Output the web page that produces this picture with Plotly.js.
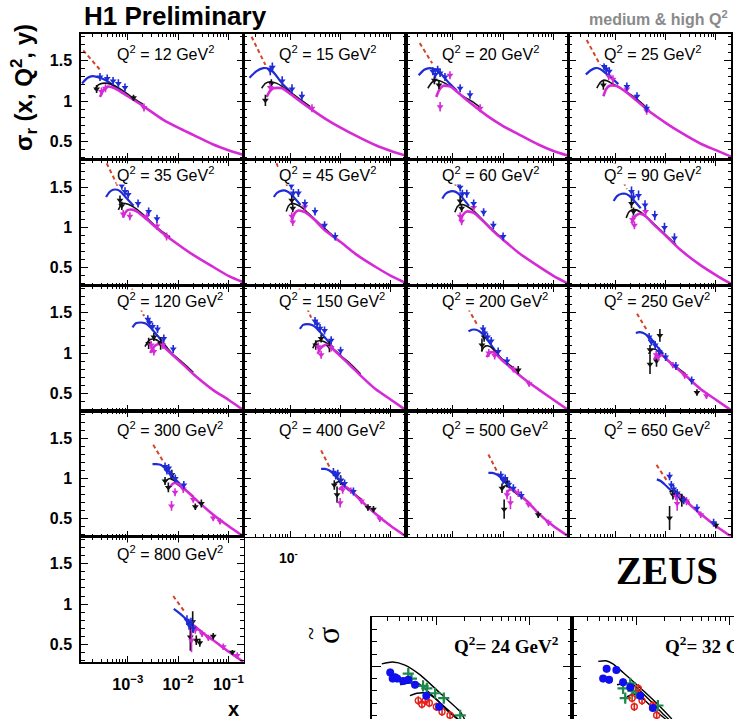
<!DOCTYPE html>
<html><head><meta charset="utf-8">
<script src="https://cdn.plot.ly/plotly-3.0.1.min.js"></script>
<style>html,body{margin:0;padding:0;background:#fff}#c{width:734px;height:719px}</style>
</head><body><div id="c"></div>
<script>
// ---------------- H1 data (17 panels) ----------------
const Q2 = [12,15,20,25,35,45,60,90,120,150,200,250,300,400,500,650,800];

// red dashed (F2-like) segment
const redX = [[1.3e-4,2.8e-4],[1.7e-4,3.2e-4],[2.2e-4,3.9e-4],[2.7e-4,5.0e-4],[3.8e-4,6.5e-4],[5.3e-4,9.0e-4],[7.0e-4,1.2e-3],[9.5e-4,1.7e-3],[1.2e-3,2.1e-3],[1.5e-3,2.6e-3],[2.0e-3,3.2e-3],[2.7e-3,4.2e-3],[3.2e-3,5.1e-3],[4.1e-3,6.3e-3],[5.1e-3,8.0e-3],[6.6e-3,1.1e-2],[8.0e-3,1.4e-2]];
const redY = [[1.63,1.39],[1.80,1.45],[1.72,1.47],[1.76,1.45],[1.80,1.50],[1.80,1.50],[1.80,1.50],[1.80,1.48],[1.80,1.46],[1.80,1.44],[1.56,1.33],[1.49,1.29],[1.42,1.21],[1.35,1.12],[1.30,1.06],[1.17,0.96],[1.10,0.89]];

// blue curve
const blueCX = [
 [1.23e-4,1.6e-4,2.0e-4,2.8e-4,3.9e-4,5.5e-4,8e-4],
 [1.55e-4,2.1e-4,2.9e-4,3.8e-4,4.6e-4,6.9e-4,1e-3],
 [2.1e-4,2.7e-4,3.5e-4,4.6e-4,5.6e-4,8e-4,1.2e-3],
 [2.6e-4,3.2e-4,4e-4,5e-4,5.8e-4,8e-4,1.15e-3],
 [3.7e-4,4.3e-4,5.1e-4,6.2e-4,7.1e-4,9e-4,1.3e-3],
 [4.7e-4,5.4e-4,6.8e-4,8e-4,9.2e-4,1.2e-3,1.6e-3],
 [6.2e-4,7.2e-4,9e-4,1.07e-3,1.23e-3,1.6e-3,2.1e-3],
 [9.3e-4,1.08e-3,1.35e-3,1.6e-3,1.85e-3,2.4e-3,3.2e-3],
 [1.24e-3,1.45e-3,1.8e-3,2.2e-3,2.6e-3,3.4e-3,4.5e-3,6e-3],
 [1.55e-3,1.8e-3,2.2e-3,2.7e-3,3.2e-3,4.2e-3,5.6e-3,7e-3],
 [2.05e-3,2.4e-3,2.9e-3,3.4e-3,4.1e-3,5.5e-3,7.5e-3,9.2e-3],
 [2.56e-3,3e-3,3.6e-3,4.3e-3,5.1e-3,6.8e-3,9e-3],
 [3.1e-3,3.7e-3,4.6e-3,5.5e-3,6.5e-3,8.5e-3,1.1e-2],
 [4.1e-3,4.9e-3,6e-3,7.2e-3,8.5e-3,1.1e-2,1.5e-2],
 [5.1e-3,6.1e-3,7.5e-3,9e-3,1.06e-2,1.4e-2,1.9e-2],
 [6.7e-3,8e-3,9.5e-3,1.15e-2,1.4e-2,1.8e-2,2.4e-2],
 [8.2e-3,1e-2,1.3e-2,1.7e-2,2.2e-2]];
const blueCY = [
 [1.22,1.29,1.31,1.29,1.25,1.18,1.10],
 [1.29,1.37,1.41,1.40,1.36,1.22,1.12],
 [1.32,1.39,1.41,1.39,1.35,1.24,1.13],
 [1.33,1.38,1.41,1.40,1.37,1.30,1.21],
 [1.38,1.44,1.47,1.47,1.45,1.38,1.27],
 [1.38,1.43,1.46,1.46,1.44,1.37,1.28],
 [1.36,1.42,1.45,1.45,1.43,1.36,1.27],
 [1.33,1.39,1.42,1.42,1.40,1.33,1.24],
 [1.32,1.37,1.38,1.37,1.34,1.26,1.17,1.06],
 [1.30,1.35,1.36,1.35,1.32,1.24,1.15,1.06],
 [1.27,1.29,1.29,1.27,1.22,1.12,1.00,0.93],
 [1.25,1.26,1.25,1.22,1.18,1.08,0.99],
 [1.18,1.18,1.17,1.13,1.09,1.00,0.93],
 [1.12,1.12,1.10,1.06,1.01,0.93,0.85],
 [1.07,1.07,1.05,1.01,0.96,0.89,0.81],
 [0.99,0.97,0.93,0.88,0.83,0.77,0.72],
 [0.94,0.90,0.84,0.77,0.71]];

// black curve
const blackCX = [
 [2.2e-4,2.6e-4,3.1e-4,4e-4,5.5e-4,8e-4,1.2e-3,2e-3],
 [2.7e-4,3.2e-4,4e-4,5.4e-4,7e-4,1e-3,1.5e-3,2.5e-3],
 [3.2e-4,3.8e-4,4.5e-4,5.6e-4,7.1e-4,1e-3,1.5e-3,2.5e-3,3.5e-3],
 [4.3e-4,5e-4,5.8e-4,7e-4,8.5e-4,1.2e-3,1.8e-3,3e-3,4.5e-3],
 [6.5e-4,7.1e-4,7.6e-4,9e-4,1.1e-3,1.5e-3,2.4e-3,4e-3,6.9e-3],
 [8.3e-4,9.2e-4,1.05e-3,1.3e-3,1.6e-3,2.1e-3,3e-3,5e-3,8e-3],
 [1.1e-3,1.23e-3,1.4e-3,1.7e-3,2.1e-3,2.8e-3,4e-3,6.5e-3,1.05e-2],
 [1.65e-3,1.85e-3,2.1e-3,2.6e-3,3.2e-3,4.2e-3,6e-3,1e-2,1.6e-2],
 [2.2e-3,2.5e-3,2.8e-3,3.5e-3,4.3e-3,5.7e-3,8e-3,1.3e-2,2e-2],
 [2.8e-3,3.1e-3,3.5e-3,4.3e-3,5.4e-3,7e-3,1e-2,1.6e-2,2.5e-2],
 [3.7e-3,4.1e-3,4.6e-3,5.5e-3,7e-3,9e-3,1.3e-2,2e-2],
 [4.6e-3,5.1e-3,5.8e-3,7e-3,8.5e-3,1.1e-2,1.6e-2,2.5e-2],
 [5.5e-3,6.2e-3,7e-3,8.5e-3,1e-2,1.4e-2,2e-2],
 [7.4e-3,8.2e-3,9.3e-3,1.1e-2,1.35e-2,1.8e-2,2.6e-2],
 [9.2e-3,1.02e-2,1.15e-2,1.4e-2,1.7e-2,2.3e-2,3.2e-2],
 [1.2e-2,1.35e-2,1.5e-2,1.8e-2,2.2e-2,3e-2],
 [1.5e-2,1.7e-2,2e-2,2.5e-2,3e-2]];
const blackCY = [
 [1.14,1.20,1.22,1.22,1.19,1.13,1.05,0.96],
 [1.16,1.22,1.24,1.22,1.18,1.11,1.03,0.93],
 [1.16,1.23,1.26,1.25,1.22,1.16,1.07,0.99,0.92],
 [1.16,1.23,1.26,1.25,1.22,1.17,1.10,1.00,0.90],
 [1.22,1.27,1.30,1.30,1.28,1.23,1.12,0.99,0.88],
 [1.20,1.27,1.30,1.29,1.26,1.20,1.11,0.98,0.87],
 [1.19,1.26,1.29,1.28,1.25,1.19,1.09,0.96,0.85],
 [1.12,1.19,1.22,1.22,1.19,1.13,1.04,0.91,0.79],
 [1.08,1.14,1.17,1.17,1.14,1.08,0.98,0.87,0.76],
 [1.06,1.12,1.15,1.15,1.12,1.06,0.97,0.86,0.74],
 [1.02,1.07,1.09,1.08,1.02,0.94,0.86,0.77],
 [0.99,1.03,1.05,1.03,0.98,0.91,0.83,0.74],
 [0.96,0.99,1.00,0.97,0.92,0.86,0.78],
 [0.92,0.95,0.96,0.93,0.88,0.82,0.74],
 [0.87,0.90,0.91,0.88,0.83,0.77,0.71],
 [0.83,0.85,0.85,0.82,0.78,0.70],
 [0.76,0.76,0.73,0.68,0.66]];

// magenta curve (runs to high x)
const magCX = [
 [2.8e-4,3.3e-4,4e-4,5.5e-4,1e-3,2e-3,5e-3,1e-2,2e-2,5e-2,0.1,0.2],
 [3.4e-4,3.9e-4,4.6e-4,6.9e-4,1e-3,2e-3,5e-3,1e-2,2e-2,5e-2,0.1,0.2],
 [4.7e-4,5.4e-4,6.5e-4,9e-4,1.2e-3,2e-3,5e-3,1e-2,2e-2,5e-2,0.1,0.2],
 [5.8e-4,6.6e-4,7.7e-4,1e-3,1.2e-3,2e-3,5e-3,1e-2,2e-2,5e-2,0.1,0.2],
 [8.1e-4,9e-4,1.02e-3,1.3e-3,1.6e-3,2.4e-3,5e-3,1e-2,2e-2,5e-2,0.1,0.2],
 [1.06e-3,1.2e-3,1.4e-3,1.8e-3,2.1e-3,3e-3,5e-3,1e-2,2e-2,5e-2,0.1,0.2],
 [1.4e-3,1.6e-3,1.9e-3,2.4e-3,2.8e-3,4e-3,6.5e-3,1e-2,2e-2,5e-2,0.1,0.2],
 [2.1e-3,2.4e-3,2.9e-3,3.6e-3,4.2e-3,6e-3,1e-2,2e-2,5e-2,0.1,0.2],
 [2.8e-3,3.2e-3,3.9e-3,4.8e-3,5.6e-3,8e-3,1.3e-2,2e-2,5e-2,0.1,0.2],
 [3.5e-3,4e-3,4.9e-3,6e-3,7e-3,1e-2,1.6e-2,2.5e-2,5e-2,0.1,0.2],
 [4.7e-3,5.3e-3,6.4e-3,8e-3,9.2e-3,1.3e-2,1.9e-2,3e-2,5.3e-2,0.1,0.2],
 [5.9e-3,6.6e-3,8e-3,1e-2,1.15e-2,1.6e-2,2.5e-2,5e-2,0.1,0.2],
 [7e-3,8e-3,9.5e-3,1.2e-2,1.4e-2,2e-2,3e-2,5e-2,0.1,0.2],
 [9.3e-3,1.06e-2,1.25e-2,1.55e-2,1.85e-2,2.6e-2,5e-2,0.1,0.2],
 [1.17e-2,1.33e-2,1.6e-2,1.9e-2,2.3e-2,3.2e-2,5e-2,0.1,0.2],
 [1.5e-2,1.7e-2,2e-2,2.5e-2,3e-2,4e-2,5.5e-2,0.1,0.2],
 [1.9e-2,2.1e-2,2.5e-2,3e-2,4e-2,5e-2,0.1,0.2]];
const magCY = [
 [1.05,1.14,1.18,1.16,1.06,0.94,0.77,0.67,0.58,0.46,0.39,0.33],
 [1.05,1.12,1.16,1.16,1.09,0.95,0.78,0.67,0.57,0.45,0.38,0.32],
 [1.05,1.14,1.19,1.18,1.12,1.00,0.81,0.69,0.59,0.46,0.38,0.32],
 [1.06,1.15,1.19,1.19,1.17,1.07,0.86,0.73,0.61,0.47,0.39,0.31],
 [1.13,1.19,1.22,1.22,1.19,1.10,0.93,0.79,0.66,0.51,0.40,0.32],
 [1.09,1.17,1.21,1.20,1.18,1.10,0.96,0.82,0.67,0.51,0.40,0.31],
 [1.08,1.16,1.20,1.19,1.17,1.08,0.95,0.85,0.69,0.52,0.40,0.30],
 [1.05,1.13,1.17,1.16,1.13,1.03,0.90,0.72,0.53,0.41,0.30],
 [1.00,1.07,1.11,1.10,1.06,0.97,0.85,0.74,0.54,0.42,0.29],
 [0.99,1.06,1.10,1.09,1.05,0.96,0.84,0.72,0.55,0.42,0.29],
 [0.95,1.00,1.01,0.96,0.92,0.84,0.75,0.65,0.54,0.42,0.29],
 [0.92,0.97,0.98,0.94,0.90,0.82,0.72,0.55,0.42,0.29],
 [0.90,0.94,0.94,0.90,0.86,0.77,0.67,0.55,0.41,0.28],
 [0.86,0.90,0.90,0.86,0.81,0.72,0.56,0.41,0.28],
 [0.82,0.86,0.86,0.82,0.78,0.70,0.57,0.41,0.28],
 [0.78,0.80,0.78,0.73,0.68,0.61,0.54,0.41,0.28],
 [0.72,0.73,0.69,0.65,0.59,0.55,0.41,0.28]];

// data points: blue (920 GeV), black (575 GeV), magenta (460 GeV)
const blueX = [
 [2.8e-4,3.9e-4,5.1e-4,6.5e-4,8.8e-4],
 [4.0e-4,4.4e-4,6.9e-4,1.08e-3,1.7e-3],
 [4.0e-4,4.5e-4,5.0e-4,5.6e-4,7e-4,1.4e-3,2.2e-3],
 [6e-4,6.6e-4,7.6e-4,1.7e-3,2.7e-3,4.2e-3],
 [7.0e-4,7.6e-4,8.8e-4,1.02e-3,1.6e-3,2.6e-3,3.8e-3],
 [9.9e-4,1.05e-3,1.15e-3,1.45e-3,1.95e-3,3.1e-3,4.8e-3,7.8e-3],
 [1.3e-3,1.4e-3,1.55e-3,1.9e-3,2.6e-3,4.1e-3,6.4e-3,1.0e-2],
 [1.9e-3,2.1e-3,2.3e-3,2.9e-3,3.9e-3,6.1e-3,9.5e-3,1.5e-2],
 [2.5e-3,2.7e-3,3.1e-3,3.9e-3,5.2e-3,8e-3],
 [3.1e-3,3.4e-3,3.9e-3,4.8e-3,6.5e-3,1e-2],
 [4.0e-3,4.3e-3,4.9e-3,5.8e-3,8e-3,1.2e-2],
 [4.7e-3,5.2e-3,6.2e-3,7.5e-3,1e-2,1.6e-2,3.3e-2],
 [5.5e-3,6e-3,6.5e-3,7.2e-3,8.8e-3,1.3e-2],
 [7.2e-3,8e-3,8.8e-3,1e-2,1.2e-2,1.8e-2],
 [9e-3,1e-2,1.1e-2,1.3e-2,1.6e-2,2.3e-2],
 [1.2e-2,1.3e-2,1.45e-2,1.7e-2,2.3e-2,4.2e-2,9e-2],
 [1.5e-2,1.65e-2,1.8e-2,2.0e-2]];
const blueY = [
 [1.30,1.28,1.25,1.22,1.17],
 [1.38,1.42,1.25,1.15,1.06],
 [1.37,1.33,1.39,1.35,1.30,1.16,1.08],
 [1.43,1.40,1.37,1.18,1.06,0.91],
 [1.58,1.52,1.45,1.41,1.30,1.20,1.11],
 [1.57,1.52,1.43,1.43,1.30,1.20,1.03,0.89],
 [1.55,1.50,1.42,1.42,1.30,1.19,1.03,0.89],
 [1.62,1.45,1.38,1.40,1.28,1.15,1.00,0.87],
 [1.42,1.38,1.33,1.30,1.18,1.05],
 [1.40,1.36,1.31,1.28,1.16,1.03],
 [1.30,1.25,1.20,1.15,1.02,0.90],
 [1.20,1.14,1.10,1.02,0.95,0.84,0.66],
 [1.15,1.10,1.13,1.05,1.00,0.92],
 [1.08,1.04,1.06,0.98,0.94,0.84],
 [1.04,0.98,1.00,0.93,0.88,0.79],
 [1.03,0.92,0.87,0.82,0.73,0.63,0.45],
 [0.80,0.74,0.77,0.70]];
const blueErr = [0.05,0.06,0.05,0.05,0.05,0.05,0.05,0.06,0.05,0.05,0.05,0.05,0.05,0.05,0.05,0.05,0.06];

const blackX = [[2.4e-4,1.3e-3],[3.2e-4,4.2e-4],[4.3e-4,5.3e-4],[5.8e-4],[7.0e-4,7.6e-4],[1.07e-3,1.12e-3],[1.4e-3,1.5e-3],[2.1e-3,2.3e-3],[2.6e-3,3.3e-3,4.5e-3],[3.2e-3,4.1e-3,6e-3],[3.8e-3,4.2e-3,2e-2],[4.9e-3,4.9e-3,7.7e-3,6.6e-3,4.2e-2],[5.5e-3,6.4e-3,7.5e-3,2.2e-2,2.9e-2],[7.5e-3,8.5e-3,1e-2,3.5e-2,4.5e-2],[9.5e-3,1.05e-2,1.2e-2,5e-2],[1.2e-2,1.4e-2,2.1e-2,0.1],[1.75e-2,1.95e-2,2.3e-2,2.7e-2,5e-2,0.12]];
const blackY = [[1.15,1.04],[1.01,1.22],[1.26,1.20],[1.20],[1.34,1.27],[1.34,1.24],[1.33,1.24],[1.30,1.20],[1.12,1.20,1.12],[1.10,1.18,1.08],[1.10,1.20,0.79],[1.04,0.86,1.22,0.90,0.51],[0.97,0.89,1.05,0.65,0.69],[0.92,0.80,0.98,0.64,0.62],[0.88,0.62,0.95,0.55],[0.51,0.80,0.73,0.42],[0.59,0.78,0.55,0.52,0.60,0.40]];
const blackE = [[0.05,0.04],[0.07,0.05],[0.05,0.05],[0.06],[0.06,0.05],[0.06,0.05],[0.06,0.05],[0.06,0.05],[0.07,0.05,0.08],[0.06,0.05,0.07],[0.08,0.06,0.05],[0.06,0.12,0.08,0.07,0.04],[0.05,0.06,0.06,0.04,0.05],[0.06,0.10,0.06,0.04,0.04],[0.06,0.12,0.06,0.04],[0.15,0.06,0.08,0.04],[0.17,0.13,0.06,0.05,0.04,0.03]];

const magX = [[3.0e-4,3.6e-4,2.1e-3],[4.0e-4,2.7e-3],[5.6e-4,8.8e-4,3.5e-3],[7.4e-4,9e-4,1.7e-3,4.2e-3],[8.1e-4,1.1e-3,2.4e-3,3.8e-3,5.9e-3],[1.07e-3,1.12e-3,1.95e-3],[1.4e-3,1.5e-3,2.6e-3],[2.2e-3,2.4e-3,4e-3],[2.9e-3,3.3e-3,5e-3],[3.6e-3,4.1e-3,6.5e-3],[5.2e-3,6.8e-3,1.6e-2,3.3e-2],[6.5e-3,7.2e-3,1.4e-2,2.4e-2,6.5e-2],[7.4e-3,8.7e-3,1.27e-2,2e-2,5e-2,6.8e-2],[9.8e-3,1.1e-2,1.6e-2,2.6e-2,6e-2],[1.2e-2,1.4e-2,2e-2,3.2e-2,8e-2],[1.6e-2,1.7e-2,2.6e-2,5e-2],[1.85e-2,2.2e-2,3e-2,4e-2,7.9e-2,0.15]];
const magY = [[1.12,1.16,0.92],[1.17,0.91],[0.93,1.32,0.91],[1.31,1.27,1.15,0.88],[1.17,1.14,1.14,1.02,0.89],[1.14,1.07,1.26],[1.14,1.08,1.25],[1.10,1.03,1.20],[1.10,1.02,1.10],[1.08,0.98,1.07],[1.00,0.97,0.80,0.62],[0.98,0.95,0.85,0.72,0.47],[0.66,0.83,0.87,0.74,0.51,0.47],[0.70,0.86,0.85,0.72,0.50],[0.80,0.70,0.82,0.68,0.45],[0.78,0.69,0.72,0.55],[0.55,0.68,0.63,0.58,0.47,0.36]];
const magE = [[0.05,0.05,0.05],[0.05,0.05],[0.06,0.05,0.05],[0.05,0.05,0.05,0.05],[0.05,0.05,0.05,0.05,0.05],[0.05,0.05,0.05],[0.05,0.05,0.05],[0.05,0.05,0.05],[0.05,0.05,0.05],[0.05,0.05,0.05],[0.05,0.05,0.04,0.04],[0.05,0.05,0.04,0.04,0.04],[0.06,0.05,0.05,0.04,0.04,0.04],[0.06,0.05,0.04,0.04,0.04],[0.06,0.08,0.05,0.04,0.04],[0.05,0.09,0.05,0.04],[0.15,0.05,0.04,0.04,0.04,0.04]];

// ---------------- ZEUS data (2 partial panels) ----------------
const zeusQ2 = [24, 32];
const zCurveAX = [[2.6e-4,3.4e-4,4.6e-4,6.7e-4,1.1e-3,1.8e-3,2.0e-3],[3.9e-4,4.7e-4,5.6e-4,7.2e-4,1.19e-3,1.8e-3,2.4e-3]];
const zCurveAY = [[1.02,1.035,1.01,0.93,0.78,0.63,0.57],[1.04,1.045,1.02,0.95,0.80,0.67,0.57]];
const zCurveBX = [[4.1e-4,5.3e-4,6.4e-4,8e-4,1.1e-3,1.6e-3,2.1e-3],[6.2e-4,7.5e-4,9.2e-4,1.4e-3,2e-3,2.6e-3]];
const zCurveBY = [[0.85,0.865,0.86,0.80,0.70,0.59,0.50],[0.85,0.86,0.85,0.72,0.60,0.52]];
const zCurveCX = [[5.2e-4,6.2e-4,7.9e-4,1.0e-3,1.3e-3,1.8e-3,2.3e-3],[7.9e-4,9e-4,1.07e-3,1.6e-3,2.2e-3,2.8e-3]];
const zCurveCY = [[0.76,0.78,0.78,0.73,0.64,0.55,0.48],[0.75,0.77,0.76,0.64,0.55,0.48]];
const zBlueX = [[3.2e-4,3.4e-4,3.6e-4,3.8e-4,4.4e-4,5.0e-4,5.9e-4,7.8e-4,1.07e-3],[4.4e-4,4.8e-4,5.1e-4,6.1e-4,7.2e-4,8.6e-4,1.1e-3,1.5e-3]];
const zBlueY = [[0.95,0.90,0.91,0.90,0.88,0.89,0.85,0.76,0.67],[0.90,0.98,0.89,0.97,0.87,0.83,0.76,0.66]];
const zGreenX = [[5.0e-4,5.4e-4,7.2e-4,7.9e-4,9.7e-4,1.2e-3,1.8e-3],[7.2e-4,7.6e-4,8.6e-4,9.2e-4,1.0e-3,1.7e-3]];
const zGreenY = [[0.94,0.90,0.84,0.82,0.78,0.74,0.60],[0.82,0.74,0.86,0.80,0.78,0.68]];
const zRedX = [[6.4e-4,7e-4,7.6e-4,8.4e-4,1.0e-3,1.15e-3,1.4e-3],[9e-4,9.5e-4,1.05e-3,1.15e-3,1.5e-3,1.65e-3]];
const zRedY = [[0.72,0.69,0.72,0.70,0.67,0.63,0.60],[0.74,0.67,0.82,0.72,0.68,0.60]];

// ---------------- layout geometry / styles ----------------
const W = 734, H = 719;
const COLL = [81, 243.5, 406, 568.5], ROWT = [33.5, 160, 285.5, 411, 536.5];
const PW = 162.5, PH = 125.5;
const LABEL_DY = [20, 14, 14.5, 18, 16];
const C_BLUE = '#1f2bd6', C_BLACK = '#111111', C_MAG = '#d62ad6', C_RED = '#d2452a';
const SANS = 'Liberation Sans, Arial, Helvetica, sans-serif';
const SERIF = 'Liberation Serif, Times New Roman, serif';

const traces = [];
const layout = {
  width: W, height: H, margin: {l:0, r:0, t:0, b:0}, showlegend: false,
  paper_bgcolor: '#ffffff', plot_bgcolor: 'rgba(0,0,0,0)',
  font: {family: SANS, color: '#000'}, annotations: [], shapes: []
};
const px = v => v / W, py = v => 1 - v / H;

function lineTrace(x, y, color, width, dash, n) {
  return {x, y, type: 'scatter', mode: 'lines', xaxis: 'x' + n, yaxis: 'y' + n,
    line: {color, width, dash: dash || 'solid', shape: 'spline', smoothing: 0.6}, hoverinfo: 'skip'};
}
function pointTrace(x, y, e, color, n, symbol, size) {
  return {x, y, type: 'scatter', mode: 'markers', xaxis: 'x' + n, yaxis: 'y' + n,
    marker: {symbol: symbol || 'triangle-down', size: size || 6, color, line: {width: 0}},
    error_y: Array.isArray(e) ? {type: 'data', array: e, visible: true, color, thickness: 1.6, width: 0}
                              : {type: 'constant', value: e, visible: true, color, thickness: 1.6, width: 0},
    hoverinfo: 'skip'};
}

Q2.forEach((q, i) => {
  const n = i + 1, col = i % 4, row = Math.floor(i / 4);
  const L = COLL[col], T = ROWT[row];
  layout['xaxis' + n] = {
    type: 'log', range: [-3.93, -0.70], domain: [px(L), px(L + PW)], anchor: 'y' + n,
    showline: true, mirror: 'ticks', linecolor: '#000', linewidth: 1.7,
    ticks: 'inside', ticklen: 6, tickwidth: 1, tickcolor: '#000', dtick: 1,
    exponentformat: 'power', showticklabels: i === 16, ticklabelstandoff: 7,
    tickfont: {family: SANS, size: 13, weight: 'bold', color: '#000'},
    minor: {ticks: 'inside', ticklen: 3, tickwidth: 1, tickcolor: '#000'},
    showgrid: false, zeroline: false, fixedrange: true
  };
  layout['yaxis' + n] = {
    range: [0.28, 1.84], domain: [py(T + PH), py(T)], anchor: 'x' + n,
    showline: true, mirror: 'ticks', linecolor: '#000', linewidth: 1.7,
    ticks: 'inside', ticklen: 7, tickwidth: 1, tickcolor: '#000', tick0: 0, dtick: 0.5,
    showticklabels: col === 0, ticklabelstandoff: 4,
    tickfont: {family: SANS, size: 16, weight: 'bold', color: '#000'},
    minor: {ticks: 'inside', ticklen: 3.5, tickwidth: 1, tickcolor: '#000', dtick: 0.1},
    showgrid: false, zeroline: false, fixedrange: true
  };
  traces.push(lineTrace(redX[i], redY[i], C_RED, 2, '4px,3px', n));
  traces.push(lineTrace(blueCX[i], blueCY[i], C_BLUE, 2.2, null, n));
  traces.push(lineTrace(blackCX[i], blackCY[i], C_BLACK, 1.6, null, n));
  traces.push(lineTrace(magCX[i], magCY[i], C_MAG, 2.6, null, n));
  traces.push(pointTrace(blackX[i], blackY[i], blackE[i], C_BLACK, n));
  traces.push(pointTrace(magX[i], magY[i], magE[i], C_MAG, n));
  traces.push(pointTrace(blueX[i], blueY[i], blueErr[i], C_BLUE, n));
  layout.annotations.push({
    xref: 'paper', yref: 'paper', x: px(L + 34.5), y: py(T + LABEL_DY[row]),
    xanchor: 'left', yanchor: 'middle', showarrow: false, bgcolor: '#ffffff', borderpad: 0,
    text: 'Q<sup>2</sup> = ' + q + ' GeV<sup>2</sup>',
    font: {family: SANS, size: 16, color: '#000'}
  });
});

// ZEUS axes
const ZX = [372, 572], ZTOP = 617.3;
zeusQ2.forEach((q, k) => {
  const n = 18 + k;
  const L = ZX[k], R = k === 0 ? 572 : W;
  const rmax = -3.69 + (R - L) / 93.3;
  layout['xaxis' + n] = {
    type: 'log', range: [-3.69, rmax], domain: [px(L), px(R)], anchor: 'y' + n, side: 'top',
    showline: true, mirror: false, linecolor: '#000', linewidth: 1.7,
    ticks: 'inside', ticklen: 8, tickwidth: 1, tickcolor: '#000', dtick: 1,
    showticklabels: false, minor: {ticks: 'inside', ticklen: 4, tickwidth: 1, tickcolor: '#000'},
    showgrid: false, zeroline: false, fixedrange: true
  };
  layout['yaxis' + n] = {
    range: [0.57, 1.40], domain: [0, py(ZTOP)], anchor: 'x' + n,
    showline: true, mirror: k === 0 ? 'ticks' : false, linecolor: '#000', linewidth: 1.7,
    ticks: 'inside', ticklen: 9, tickwidth: 1, tickcolor: '#000', tick0: 0, dtick: 0.5,
    showticklabels: false, minor: {ticks: 'inside', ticklen: 4.5, tickwidth: 1, tickcolor: '#000', dtick: 0.1},
    showgrid: false, zeroline: false, fixedrange: true
  };
  traces.push(lineTrace(zCurveAX[k], zCurveAY[k], '#000', 1.4, null, n));
  traces.push(lineTrace(zCurveBX[k], zCurveBY[k], '#000', 1.4, null, n));
  traces.push(lineTrace(zCurveCX[k], zCurveCY[k], '#000', 1.4, null, n));
  traces.push(pointTrace(zGreenX[k], zGreenY[k], 0.035, '#1d8a4c', n, 'cross-thin', 8));
  traces[traces.length - 1].marker.line = {color: '#1d8a4c', width: 2.2};
  traces.push(pointTrace(zRedX[k], zRedY[k], 0.035, '#e3221b', n, 'circle-open', 6));
  traces[traces.length - 1].marker.line = {color: '#e3221b', width: 1.4};
  traces.push(pointTrace(zBlueX[k], zBlueY[k], 0.03, '#1010ee', n, 'circle', 8));
});

// text
const A = layout.annotations;
A.push({xref:'paper', yref:'paper', x: px(82), y: py(16), xanchor:'left', yanchor:'middle', showarrow:false,
  text:'<b>H1 Preliminary</b>', font:{family:SANS, size:26, color:'#000'}});
A.push({xref:'paper', yref:'paper', x: px(730), y: py(18), xanchor:'right', yanchor:'middle', showarrow:false,
  text:'<b>medium &amp; high Q<sup>2</sup></b>', font:{family:SANS, size:16, color:'#8a8a8a'}});
A.push({xref:'paper', yref:'paper', x: px(24), y: py(88), xanchor:'center', yanchor:'middle', showarrow:false, textangle:-90,
  text:'<b>σ<sub>r</sub> (x, Q<sup>2</sup>, y)</b>', font:{family:SANS, size:24, color:'#000'}});
A.push({xref:'paper', yref:'paper', x: px(233), y: py(709), xanchor:'center', yanchor:'middle', showarrow:false,
  text:'<b>x</b>', font:{family:SANS, size:20, color:'#000'}});
A.push({xref:'paper', yref:'paper', x: px(277), y: py(557), xanchor:'left', yanchor:'middle', showarrow:false,
  text:'<b>10<sup>-</sup></b>', font:{family:SANS, size:14, color:'#000'}});
A.push({xref:'paper', yref:'paper', x: px(667), y: py(570), xanchor:'center', yanchor:'middle', showarrow:false,
  text:'<b>ZEUS</b>', font:{family:SERIF, size:39, color:'#000'}});
A.push({xref:'paper', yref:'paper', x: px(328), y: py(636), xanchor:'center', yanchor:'middle', showarrow:false, textangle:-90,
  text:'σ', font:{family:SERIF, size:32, color:'#000'}});
A.push({xref:'paper', yref:'paper', x: px(311), y: py(634), xanchor:'center', yanchor:'middle', showarrow:false, textangle:-90,
  text:'~', font:{family:SERIF, size:24, color:'#000'}});
A.push({xref:'paper', yref:'paper', x: px(561), y: py(645), xanchor:'right', yanchor:'middle', showarrow:false,
  text:'<b>Q<sup>2</sup>= ' + zeusQ2[0] + ' GeV<sup>2</sup></b>', font:{family:SERIF, size:19, color:'#000'}});
A.push({xref:'paper', yref:'paper', x: px(663), y: py(645), xanchor:'left', yanchor:'middle', showarrow:false,
  text:'<b>Q<sup>2</sup>= ' + zeusQ2[1] + ' GeV<sup>2</sup></b>', font:{family:SERIF, size:19, color:'#000'}});

Plotly.newPlot('c', traces, layout, {staticPlot: true, displayModeBar: false});
</script>
</body></html>
